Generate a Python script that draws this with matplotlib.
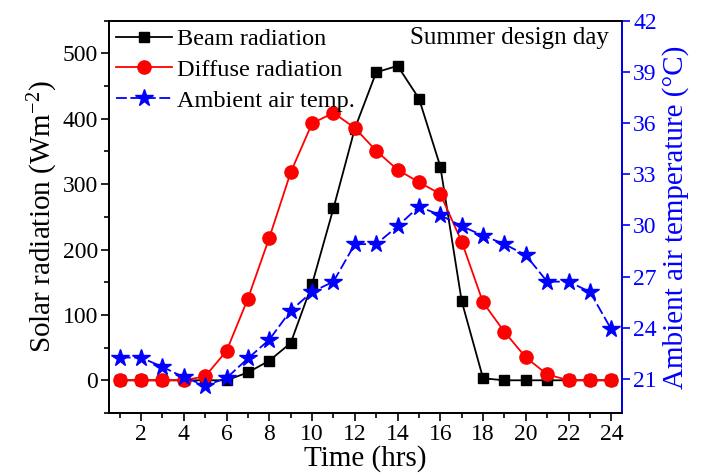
import numpy as np
import matplotlib
matplotlib.use('Agg')
import matplotlib.pyplot as plt

plt.rcParams['font.family'] = ['Liberation Serif', 'DejaVu Serif']
plt.rcParams['mathtext.default'] = 'regular'

# Data
hours = np.arange(1, 25)
beam = [0, 0, 0, 0, 0, 0, 12, 30, 57, 147, 263, 385, 471, 481, 431, 327,
        121, 3, 0, 0, 0, 0, 0, 0]
diffuse = [0, 0, 0, 0, 6, 45, 125, 218, 318, 393, 409, 386, 351, 322, 303, 285,
           212, 119, 74, 35, 9, 0, 0, 0]
temp = [22.25, 22.25, 21.7, 21.1, 20.6, 21.05, 22.2, 23.3, 25.0, 26.1, 26.7, 28.9,
        28.9, 29.95, 31.1, 30.6, 29.95, 29.4, 28.9, 28.25, 26.7, 26.7, 26.1, 23.9]

fig = plt.figure(figsize=(7.05, 4.76), dpi=100)
ax1 = fig.add_axes([0.1546, 0.1324, 0.7277, 0.8241])
ax2 = ax1.twinx()

l1, = ax1.plot(hours, beam, '-s', color='black', lw=1.3, ms=7.5, label='Beam radiation')
l2, = ax1.plot(hours, diffuse, '-o', color='red', lw=1.3, ms=9.5, label='Diffuse radiation')
l3, = ax2.plot(hours, temp, '--*', color='blue', lw=1.3, ms=13, dashes=(6, 2),
               label='Ambient air temp.')

ax1.set_xlim(0.5, 24.5)
ax1.set_ylim(-50, 550)
ax2.set_ylim(19, 42)

ax1.set_xticks(np.arange(2, 25, 2))
ax1.set_xticks(np.arange(1, 25, 2), minor=True)
ax1.set_yticks(np.arange(0, 501, 100))
ax1.set_yticks(np.arange(-50, 551, 100), minor=True)
ax2.set_yticks(np.arange(21, 43, 3))

ax1.tick_params(axis='both', which='major', direction='out', length=6, width=1.2,
                labelsize=17, pad=2, right=False, top=False)
ax1.tick_params(axis='both', which='minor', direction='out', length=3.5, width=1.2,
                right=False, top=False)
ax2.tick_params(axis='y', which='major', direction='out', length=6, width=1.2,
                labelsize=17, pad=2, colors='blue')

for sp in ax1.spines.values():
    sp.set_linewidth(1.3)
for sp in ax2.spines.values():
    sp.set_linewidth(1.3)
ax2.spines['right'].set_color('blue')

ax1.set_xlabel('Time (hrs)', fontsize=21, labelpad=0)
ax1.set_ylabel('Solar radiation (Wm$^{-2}$)', fontsize=21, labelpad=2)
ax2.set_ylabel('Ambient air temperature (\u00b0C)', fontsize=21, color='blue', labelpad=4)

ax2.legend(handles=[l1, l2, l3], loc='upper left', bbox_to_anchor=(-0.005, 1.005),
           frameon=False, fontsize=17.5, handlelength=2.3, handletextpad=0.2,
           labelspacing=0.35, borderaxespad=0)

ax1.text(0.975, 0.985, 'Summer design day', transform=ax1.transAxes,
         ha='right', va='top', fontsize=18)

fig.savefig('out.png', dpi=100)
